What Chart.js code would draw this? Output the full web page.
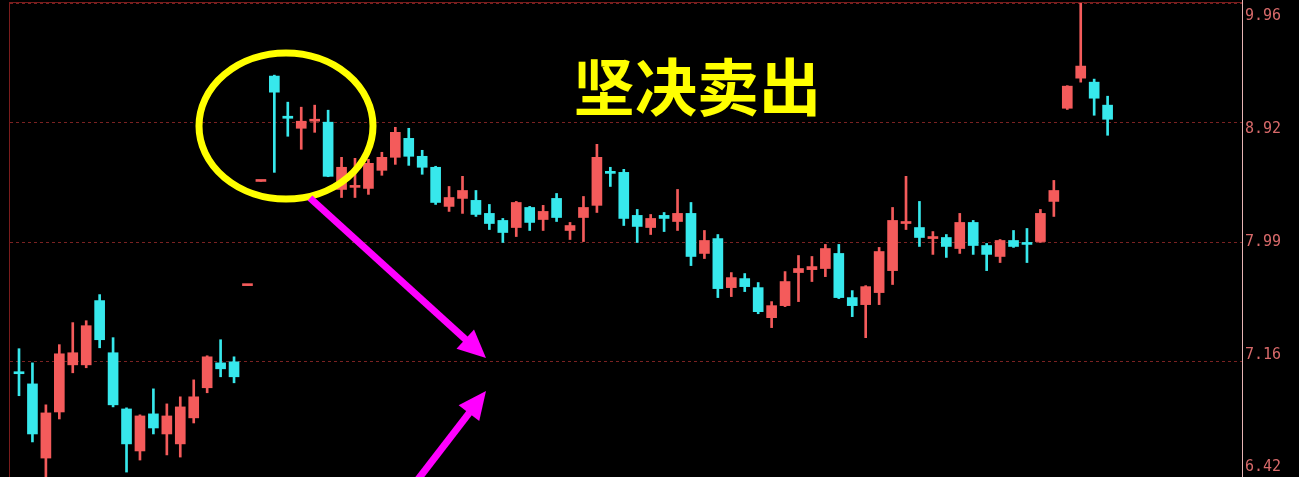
<!DOCTYPE html>
<html>
<head>
<meta charset="utf-8">
<script src="https://cdn.jsdelivr.net/npm/chart.js@4.4.1/dist/chart.umd.min.js"></script>
<style>
  html, body { margin: 0; padding: 0; background: #000; overflow: hidden; }
  #wrap { width: 1299px; height: 477px; overflow: hidden; background: #000; }
</style>
</head>
<body>
<div id="wrap"><canvas id="kline" width="1299" height="486"></canvas></div>
<script>
// daily candles
var openP = [7.093, 7.014, 6.551, 6.835, 7.138, 7.138, 7.573, 7.218, 6.854, 6.594,
  6.823, 6.698, 6.637, 6.798, 6.989, 7.151, 7.158, 7.678, 8.451, 9.312,
  8.974, 8.875, 8.933, 8.925, 8.389, 8.405, 8.397, 8.538, 8.641, 8.793,
  8.649, 8.562, 8.259, 8.320, 8.305, 8.206, 8.153, 8.100, 8.251, 8.160,
  8.320, 8.078, 8.175, 8.267, 8.530, 8.522, 8.191, 8.100, 8.191, 8.145,
  8.206, 7.909, 8.018, 7.664, 7.728, 7.664, 7.455, 7.538, 7.771, 7.792,
  7.800, 7.909, 7.594, 7.545, 7.629, 7.785, 8.130, 8.100, 8.018, 8.026,
  7.945, 8.138, 7.967, 7.887, 8.004, 7.989, 7.996, 8.297, 9.040, 9.294,
  9.260, 9.066];
var highP = [7.245, 7.151, 6.880, 7.272, 7.421, 7.434, 7.615, 7.319, 6.861, 6.817,
  6.982, 6.886, 6.931, 7.040, 7.198, 7.305, 7.191, 7.678, 8.451, 9.320,
  9.091, 9.049, 9.066, 9.024, 8.641, 8.633, 8.625, 8.681, 8.883, 8.875,
  8.697, 8.570, 8.412, 8.491, 8.381, 8.274, 8.168, 8.297, 8.259, 8.267,
  8.358, 8.138, 8.335, 8.745, 8.562, 8.546, 8.236, 8.198, 8.213, 8.389,
  8.289, 8.078, 8.048, 7.771, 7.764, 7.700, 7.566, 7.778, 7.894, 7.887,
  7.975, 7.975, 7.643, 7.678, 7.953, 8.251, 8.491, 8.297, 8.070, 8.048,
  8.206, 8.153, 7.982, 8.011, 8.078, 8.093, 8.236, 8.459, 9.230, 9.980,
  9.286, 9.141];
var lowP = [6.938, 6.649, 6.400, 6.791, 7.086, 7.119, 7.251, 6.867, 6.467, 6.539,
  6.698, 6.570, 6.557, 6.766, 6.957, 7.060, 7.021, 7.678, 8.451, 8.522,
  8.810, 8.705, 8.842, 8.488, 8.327, 8.327, 8.351, 8.499, 8.585, 8.577,
  8.507, 8.274, 8.221, 8.206, 8.183, 8.085, 7.989, 8.033, 8.078, 8.078,
  8.145, 8.011, 7.996, 8.213, 8.412, 8.115, 7.989, 8.048, 8.070, 8.078,
  7.821, 7.872, 7.594, 7.601, 7.636, 7.482, 7.387, 7.531, 7.566, 7.707,
  7.742, 7.587, 7.462, 7.319, 7.545, 7.686, 8.085, 7.960, 7.902, 7.880,
  7.909, 7.902, 7.785, 7.843, 7.953, 7.843, 7.989, 8.183, 9.030, 9.260,
  8.982, 8.818];
var closeP = [7.080, 6.698, 6.829, 7.211, 7.218, 7.400, 7.305, 6.880, 6.637, 6.810,
  6.735, 6.810, 6.867, 6.931, 7.191, 7.112, 7.060, 7.678, 8.451, 9.175,
  8.957, 8.933, 8.949, 8.491, 8.562, 8.420, 8.593, 8.641, 8.842, 8.649,
  8.562, 8.289, 8.327, 8.381, 8.198, 8.130, 8.063, 8.289, 8.138, 8.221,
  8.175, 8.115, 8.251, 8.641, 8.514, 8.168, 8.108, 8.168, 8.168, 8.206,
  7.887, 8.004, 7.657, 7.735, 7.671, 7.496, 7.538, 7.707, 7.800, 7.814,
  7.945, 7.594, 7.538, 7.671, 7.923, 8.153, 8.145, 8.026, 8.033, 7.960,
  8.138, 7.967, 7.902, 8.004, 7.960, 7.975, 8.206, 8.381, 9.226, 9.398,
  9.124, 8.949];
var yTicks = [6.42, 7.16, 7.99, 8.92, 9.96];
var days = openP.map(function(v, i) { return i; });

var upColor = "#f45b5b";
var downColor = "#37e8ec";
var candleColor = function(ctx) {
  var i = ctx.dataIndex;
  return closeP[i] >= openP[i] ? upColor : downColor;
};

var bodies = days.map(function(d, i) { return { x: d, y: [openP[i], closeP[i]] }; });
var wicks = days.map(function(d, i) { return { x: d, y: [lowP[i], highP[i]] }; });

// frame, price labels and the hand drawn marks
var overlay = {
  id: "overlay",
  afterDraw: function(chart) {
    var c = chart.ctx, y = chart.scales.y, area = chart.chartArea;
    c.save();
    // frame
    c.lineWidth = 1;
    c.strokeStyle = "#7a1c1c";
    c.beginPath();
    c.moveTo(9.5, area.top - 1); c.lineTo(9.5, 477);
    c.moveTo(9, area.top - 0.5); c.lineTo(area.right, area.top - 0.5);
    c.stroke();
    c.strokeStyle = "#e6b4b4";
    c.beginPath();
    c.moveTo(area.right + 0.5, 0); c.lineTo(area.right + 0.5, 486);
    c.stroke();

    // price labels
    var mid = (area.top + area.bottom) / 2;
    c.fillStyle = "#d86a6a";
    c.font = "15px 'DejaVu Sans Mono'";
    c.textAlign = "left";
    c.textBaseline = "middle";
    yTicks.forEach(function(v) {
      var py = y.getPixelForValue(v);
      c.fillText(v.toFixed(2), area.right + 3, py + (mid - py) * 0.055);
    });

    // yellow circle
    c.strokeStyle = "#ffff00";
    c.lineWidth = 7;
    c.beginPath();
    c.ellipse(286, 126, 87, 73, 0, 0, Math.PI * 2);
    c.stroke();

    // text
    c.fillStyle = "#ffff00";
    c.font = "bold 62px 'Noto Sans CJK SC'";
    c.textAlign = "center";
    c.fillText("坚决卖出", 697, 87);

    // arrows
    var arrow = function(x1, y1, x2, y2) {
      var dx = x2 - x1, dy = y2 - y1, len = Math.sqrt(dx * dx + dy * dy);
      var ux = dx / len, uy = dy / len, hl = 28, hw = 13;
      var bx = x2 - ux * hl, by = y2 - uy * hl;
      c.strokeStyle = "#ff00ff";
      c.fillStyle = "#ff00ff";
      c.lineWidth = 7;
      c.beginPath();
      c.moveTo(x1, y1); c.lineTo(bx + ux * 4, by + uy * 4);
      c.stroke();
      c.beginPath();
      c.moveTo(x2, y2);
      c.lineTo(bx - uy * hw, by + ux * hw);
      c.lineTo(bx + uy * hw, by - ux * hw);
      c.closePath();
      c.fill();
    };
    arrow(310, 198, 486, 358);
    arrow(416, 482, 486, 391);
    c.restore();
  }
};

new Chart("kline", {
  type: "bar",
  data: {
    datasets: [{
      label: "body",
      data: bodies,
      backgroundColor: candleColor,
      barThickness: 10,
      minBarLength: 2
    }, {
      label: "wick",
      data: wicks,
      backgroundColor: candleColor,
      barThickness: 2
    }]
  },
  options: {
    responsive: false,
    animation: false,
    grouped: false,
    layout: { padding: { left: 10, top: 3, bottom: 6, right: 0 } },
    plugins: {
      legend: { display: false },
      tooltip: { enabled: false }
    },
    scales: {
      x: {
        type: "linear",
        display: false,
        offset: false,
        min: -0.67,
        max: 91
      },
      y: {
        type: "logarithmic",
        position: "right",
        min: 6.42,
        max: 9.96,
        afterBuildTicks: function(s) {
          s.ticks = yTicks.map(function(v) { return { value: v }; });
        },
        afterFit: function(s) { s.width = 57; },
        ticks: { display: false },
        grid: {
          color: "#7a2222",
          lineWidth: 1,
          drawTicks: false
        },
        border: { display: false, dash: [3, 3] }
      }
    }
  },
  plugins: [overlay]
});
</script>
</body>
</html>
